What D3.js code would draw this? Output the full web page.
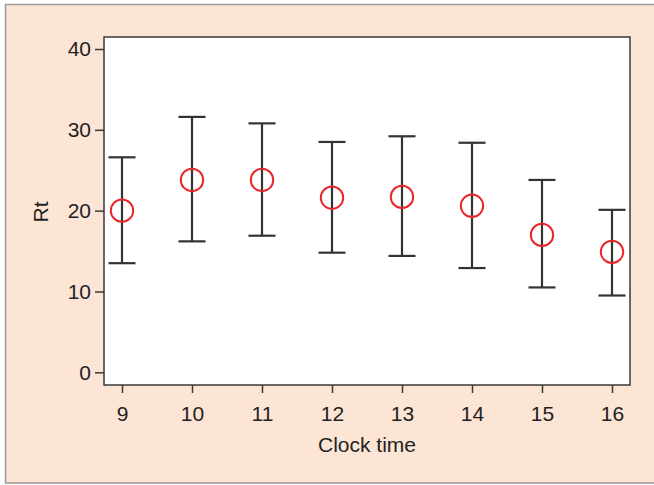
<!DOCTYPE html>
<html><head><meta charset="utf-8">
<script src="https://cdn.jsdelivr.net/npm/d3@7"></script>
<style>html,body{margin:0;padding:0;background:#fff;}</style>
</head><body>
<script>
const clockTimes = [9, 10, 11, 12, 13, 14, 15, 16];
const rtMean = [20.0, 23.8, 23.8, 21.6, 21.7, 20.6, 17.0, 14.9];
const rtUpper = [26.6, 31.6, 30.8, 28.5, 29.2, 28.4, 23.8, 20.1];
const rtLower = [13.5, 16.2, 16.9, 14.8, 14.4, 12.9, 10.5, 9.5];
const yTicks = [0, 10, 20, 30, 40];

const W = 654, H = 485;
const svg = d3.select("body").append("svg").attr("width", W).attr("height", H);

svg.append("rect").attr("x", 5.5).attr("y", 4.5).attr("width", 660).attr("height", 478.5)
  .attr("fill", "#fde5d5").attr("stroke", "#9a9a9a").attr("stroke-width", 1.5);

const frame = {left: 104, right: 630, top: 37, bottom: 385};
svg.append("rect").attr("x", frame.left).attr("y", frame.top)
  .attr("width", frame.right - frame.left).attr("height", frame.bottom - frame.top)
  .attr("fill", "#fff").attr("stroke", "#3a3a3a").attr("stroke-width", 1.5);

const x = d3.scaleLinear().domain([9, 16]).range([122, 612]);
const y = d3.scaleLinear().domain([0, 40]).range([372.3, 49]);

const font = "Liberation Sans, Arial, sans-serif";
const fs = 21;

const xAxis = svg.append("g").attr("transform", `translate(0,${frame.bottom})`)
  .call(d3.axisBottom(x).tickValues(clockTimes).tickSize(8).tickPadding(13).tickFormat(d3.format("d")));
xAxis.select(".domain").remove();
xAxis.selectAll("line").attr("stroke", "#3a3a3a").attr("stroke-width", 1.5);
xAxis.selectAll("text").attr("font-family", font).attr("font-size", fs).attr("fill", "#222");

const yAxis = svg.append("g").attr("transform", `translate(${frame.left},0)`)
  .call(d3.axisLeft(y).tickValues(yTicks).tickSize(9).tickPadding(4));
yAxis.select(".domain").remove();
yAxis.selectAll("line").attr("stroke", "#3a3a3a").attr("stroke-width", 1.5);
yAxis.selectAll("text").attr("font-family", font).attr("font-size", fs).attr("fill", "#222");

svg.append("text").attr("x", 367).attr("y", 452).attr("text-anchor", "middle")
  .attr("font-family", font).attr("font-size", fs).attr("fill", "#222").text("Clock time");
svg.append("text").attr("transform", "translate(48,212) rotate(-90)").attr("text-anchor", "middle")
  .attr("font-family", font).attr("font-size", fs).attr("fill", "#222").text("Rt");

const data = clockTimes.map((t, i) => ({t, m: rtMean[i], u: rtUpper[i], l: rtLower[i]}));
const cap = 13.5;
const g = svg.append("g").attr("stroke", "#333").attr("stroke-width", 2.2);
g.selectAll(".v").data(data).join("line")
  .attr("x1", d => x(d.t)).attr("x2", d => x(d.t)).attr("y1", d => y(d.u)).attr("y2", d => y(d.l));
g.selectAll(".cu").data(data).join("line").attr("class", "cu")
  .attr("x1", d => x(d.t) - cap).attr("x2", d => x(d.t) + cap).attr("y1", d => y(d.u)).attr("y2", d => y(d.u));
g.selectAll(".cl").data(data).join("line").attr("class", "cl")
  .attr("x1", d => x(d.t) - cap).attr("x2", d => x(d.t) + cap).attr("y1", d => y(d.l)).attr("y2", d => y(d.l));

svg.append("g").selectAll("circle").data(data).join("circle")
  .attr("cx", d => x(d.t)).attr("cy", d => y(d.m)).attr("r", 11.2)
  .attr("fill", "none").attr("stroke", "#e8262a").attr("stroke-width", 2);
</script>
</body></html>
